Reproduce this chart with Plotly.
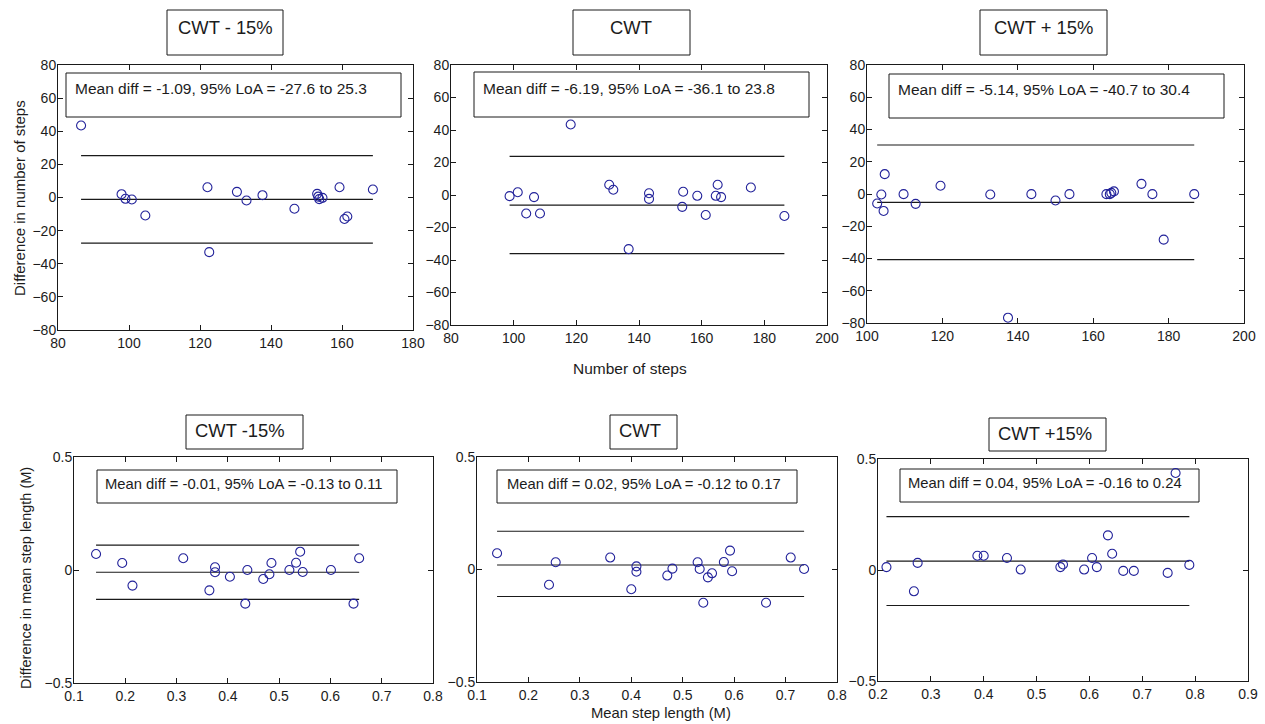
import plotly.graph_objects as go

W, H = 1265, 724

# ---------------- data ----------------
titles = ["CWT - 15%", "CWT", "CWT + 15%", "CWT -15%", "CWT", "CWT +15%"]

steps_m15_x = [86.5, 97.9, 99.0, 100.8, 104.6, 122.1, 122.6, 130.4, 133.1, 137.6,
               146.6, 153.0, 153.3, 153.6, 154.5, 159.3, 160.7, 161.5, 168.7]
steps_m15_y = [43.5, 2.0, -0.8, -1.2, -10.9, 6.2, -33.0, 3.4, -1.8, 1.4,
               -6.8, 2.2, 0.5, -1.0, -0.2, 6.2, -13.0, -11.5, 4.8]

steps_cwt_x = [98.7, 101.3, 104.0, 106.5, 108.4, 118.2, 130.5, 131.8, 136.7, 143.2,
               143.2, 153.8, 154.1, 158.6, 161.3, 164.5, 165.1, 166.2, 175.7, 186.4]
steps_cwt_y = [-0.7, 1.7, -11.4, -1.3, -11.4, 43.4, 6.3, 3.2, -33.3, 1.1,
               -2.4, -7.3, 2.0, -0.5, -12.3, -0.5, 6.3, -1.3, 4.6, -12.9]

steps_p15_x = [102.7, 103.8, 104.4, 104.7, 109.7, 112.9, 119.5, 132.7, 137.4, 143.6,
               150.0, 153.7, 163.5, 164.4, 164.8, 165.5, 172.8, 175.7, 178.7, 186.8]
steps_p15_y = [-5.9, -0.3, -10.5, 12.3, -0.1, -6.1, 5.1, -0.3, -76.7, -0.1,
               -4.0, -0.1, -0.1, -0.1, 0.7, 1.6, 6.3, -0.1, -28.3, -0.1]

len_m15_x = [0.143, 0.194, 0.214, 0.313, 0.364, 0.375, 0.375, 0.404, 0.434, 0.438,
             0.469, 0.481, 0.485, 0.520, 0.533, 0.541, 0.546, 0.601, 0.645, 0.656]
len_m15_y = [0.071, 0.031, -0.069, 0.052, -0.090, 0.012, -0.010, -0.030, -0.149, 0.000,
             -0.040, -0.019, 0.031, 0.000, 0.032, 0.081, -0.009, 0.000, -0.149, 0.052]

len_cwt_x = [0.139, 0.240, 0.253, 0.359, 0.400, 0.410, 0.410, 0.470, 0.480, 0.529,
             0.533, 0.540, 0.549, 0.557, 0.580, 0.592, 0.596, 0.662, 0.710, 0.736]
len_cwt_y = [0.072, -0.068, 0.032, 0.053, -0.088, 0.014, -0.010, -0.027, 0.004, 0.032,
             0.002, -0.148, -0.035, -0.017, 0.033, 0.084, -0.008, -0.148, 0.053, 0.002]

len_p15_x = [0.216, 0.268, 0.275, 0.388, 0.400, 0.444, 0.470, 0.545, 0.550, 0.590,
             0.605, 0.614, 0.635, 0.643, 0.664, 0.684, 0.748, 0.763, 0.789]
len_p15_y = [0.013, -0.096, 0.032, 0.064, 0.064, 0.054, 0.002, 0.013, 0.025, 0.002,
             0.054, 0.013, 0.156, 0.073, -0.004, -0.004, -0.013, 0.437, 0.023]

mean_diff = [-1.09, -6.19, -5.14, -0.01, 0.02, 0.04]
loa_low = [-27.6, -36.1, -40.7, -0.13, -0.12, -0.16]
loa_high = [25.3, 23.8, 30.4, 0.11, 0.17, 0.24]
stat_labels = ["-1.09", "-6.19", "-5.14", "-0.01", "0.02", "0.04"]
low_labels = ["-27.6", "-36.1", "-40.7", "-0.13", "-0.12", "-0.16"]
high_labels = ["25.3", "23.8", "30.4", "0.11", "0.17", "0.24"]

xs = [steps_m15_x, steps_cwt_x, steps_p15_x, len_m15_x, len_cwt_x, len_p15_x]
ys = [steps_m15_y, steps_cwt_y, steps_p15_y, len_m15_y, len_cwt_y, len_p15_y]

x_ranges = [[80, 180], [80, 200], [100, 200], [0.1, 0.8], [0.1, 0.8], [0.2, 0.9]]
y_ranges = [[-80, 80], [-80, 80], [-80, 80], [-0.5, 0.5], [-0.5, 0.5], [-0.5, 0.5]]
x_dticks = [20, 20, 20, 0.1, 0.1, 0.1]
y_dticks = [20, 20, 20, 0.5, 0.5, 0.5]

# ---------------- layout geometry (pixels) ----------------
boxes = [(58, 413, 65, 330), (451, 827, 65, 325), (867, 1244, 65, 323),
         (74, 433, 457, 683), (477, 837, 457, 682), (878, 1248, 459, 681)]
tboxes = [(167, 283, 10, 55, 225, 27), (573, 690, 10, 55, 631, 27), (980, 1107, 10, 55, 1043, 27),
          (186, 303, 415, 449, 240, 431), (610, 677, 415, 449, 640, 431), (989, 1106, 418, 451, 1045, 433)]
sboxes = [(66, 401, 73, 117, 73, 88), (474, 809, 72, 117, 481, 88), (889, 1224, 74, 118, 896, 89),
          (97, 397, 470, 503, 103, 484), (497, 797, 470, 503, 505, 484), (900, 1199, 469, 502, 906, 483)]

def px(x):
    return x / W

def py(y):
    return 1 - y / H

INK = "#1a1a1a"
TXT = "#1c1c1c"
MARK = "#22229a"
FONT = "Liberation Sans, Arial, sans-serif"

fig = go.Figure()
shapes = []
annotations = []

for i in range(6):
    n = i + 1
    xa = "x" if n == 1 else f"x{n}"
    ya = "y" if n == 1 else f"y{n}"
    x0, x1 = min(xs[i]), max(xs[i])
    for v in (loa_high[i], mean_diff[i], loa_low[i]):
        fig.add_trace(go.Scatter(x=[x0, x1], y=[v, v], mode="lines",
                                 line=dict(color=INK, width=1.2),
                                 xaxis=xa, yaxis=ya, showlegend=False, hoverinfo="skip"))
    fig.add_trace(go.Scatter(x=xs[i], y=ys[i], mode="markers",
                             marker=dict(symbol="circle-open", size=9,
                                         color=MARK, line=dict(width=1.1, color=MARK)),
                             xaxis=xa, yaxis=ya, showlegend=False))

    l, r, t, b = boxes[i]
    axis_common = dict(showline=True, linecolor=INK, linewidth=1, mirror="ticks",
                       ticks="inside", ticklen=5, tickcolor=INK, showgrid=False,
                       zeroline=False, automargin=False,
                       tickfont=dict(family=FONT, size=14, color=TXT))
    fig.layout[f"xaxis{n}" if n > 1 else "xaxis"] = dict(
        domain=[px(l), px(r)], range=x_ranges[i], dtick=x_dticks[i], tick0=0,
        anchor=ya, **axis_common)
    fig.layout[f"yaxis{n}" if n > 1 else "yaxis"] = dict(
        domain=[py(b), py(t)], range=y_ranges[i], dtick=y_dticks[i], tick0=0,
        anchor=xa, ticklabelstandoff=-2, **axis_common)

    tl, tr, tt, tb, tcx, tcy = tboxes[i]
    shapes.append(dict(type="rect", xref="paper", yref="paper",
                       x0=px(tl), x1=px(tr), y0=py(tb), y1=py(tt),
                       line=dict(color=INK, width=1), fillcolor="white", layer="above"))
    annotations.append(dict(text=titles[i], xref="paper", yref="paper",
                            x=px(tcx), y=py(tcy), xanchor="center", yanchor="middle",
                            showarrow=False, font=dict(family=FONT, size=18.4, color=TXT)))

    sl, sr, st, sb, sx, sy = sboxes[i]
    shapes.append(dict(type="rect", xref="paper", yref="paper",
                       x0=px(sl), x1=px(sr), y0=py(sb), y1=py(st),
                       line=dict(color=INK, width=1), layer="below"))
    txt = f"Mean diff = {stat_labels[i]}, 95% LoA = {low_labels[i]} to {high_labels[i]}"
    annotations.append(dict(text=txt, xref="paper", yref="paper",
                            x=px(sx), y=py(sy), xanchor="left", yanchor="middle",
                            showarrow=False,
                            font=dict(family=FONT, size=15.5 if i < 3 else 14.8, color=TXT)))

annotations += [
    dict(text="Difference in number of steps", xref="paper", yref="paper",
         x=px(19), y=py(198), xanchor="center", yanchor="middle", textangle=-90,
         showarrow=False, font=dict(family=FONT, size=15, color=TXT)),
    dict(text="Number of steps", xref="paper", yref="paper",
         x=px(630), y=py(368), xanchor="center", yanchor="middle", showarrow=False,
         font=dict(family=FONT, size=15.5, color=TXT)),
    dict(text="Difference in mean step length (M)", xref="paper", yref="paper",
         x=px(26), y=py(578), xanchor="center", yanchor="middle", textangle=-90,
         showarrow=False, font=dict(family=FONT, size=14.5, color=TXT)),
    dict(text="Mean step length (M)", xref="paper", yref="paper",
         x=px(661), y=py(713), xanchor="center", yanchor="middle", showarrow=False,
         font=dict(family=FONT, size=14.8, color=TXT)),
]

fig.update_layout(width=W, height=H, margin=dict(l=0, r=0, t=0, b=0, pad=0),
                  plot_bgcolor="white", paper_bgcolor="white",
                  shapes=shapes, annotations=annotations,
                  font=dict(family=FONT))

fig.write_html("out.html", config={"displayModeBar": False},
               post_script="document.body.style.margin='0';document.body.style.overflow='hidden';")
